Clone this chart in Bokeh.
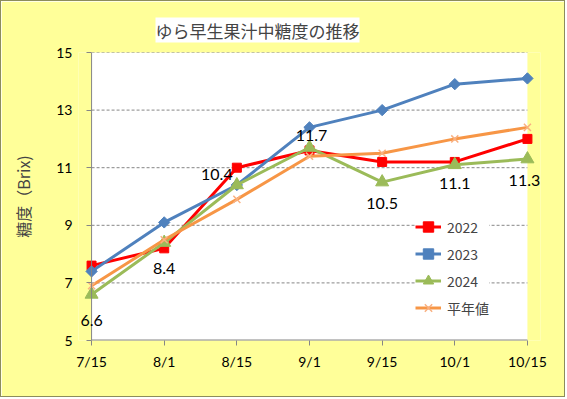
from bokeh.plotting import figure
from bokeh.models import Range1d, FixedTicker, Legend, LegendItem, Label, Span
from bokeh.embed import file_html
from bokeh.resources import INLINE
import math

# ---- data ----
dates = ["7/15", "8/1", "8/15", "9/1", "9/15", "10/1", "10/15"]
y2022 = [7.6, 8.2, 11.0, 11.6, 11.2, 11.2, 12.0]
y2023 = [7.4, 9.1, 10.4, 12.4, 13.0, 13.9, 14.1]
y2024 = [6.6, 8.4, 10.4, 11.7, 10.5, 11.1, 11.3]
normal = [6.9, 8.5, 9.9, 11.4, 11.5, 12.0, 12.4]
y_ticks = [5, 7, 9, 11, 13, 15]
title_text = "ゆら早生果汁中糖度の推移"
y_label = "糖度（Brix)"
series_names = ["2022", "2023", "2024", "平年値"]

# label placement (style, pixels; positive = downwards)
label_dx = [0, 0, -20, 2, 0, 0, -3]
label_dy = [26, 26, -10, -12, 21, 19, 21]

xs = list(range(len(dates)))
PAD = 0.18  # extra room beside the plot area so end labels are not cut

BG = "#FFFF99"
GRAY = "#868686"
p = figure(width=565, height=397, output_backend="svg", toolbar_location=None,
           x_range=Range1d(xs[0] - PAD, xs[-1] + PAD), y_range=Range1d(y_ticks[0], y_ticks[-1]),
           min_border_left=77, min_border_right=26, min_border_top=51, min_border_bottom=58,
           styles={"border": "1px solid #8C8C5C"})
p.border_fill_color = BG
p.background_fill_color = BG
p.outline_line_color = None

# white plot area
p.quad(left=xs[0], right=xs[-1], bottom=y_ticks[0], top=y_ticks[-1],
       fill_color="white", line_color=None)
# dashed gridlines across plot area
p.segment(x0=[xs[0]] * (len(y_ticks) - 1), x1=[xs[-1]] * (len(y_ticks) - 1),
          y0=y_ticks[1:], y1=y_ticks[1:], line_color=GRAY, line_dash="3 2", line_width=1)
# axis lines of the plot area
p.add_layout(Span(location=xs[0], dimension="height", line_color=GRAY, line_width=1))
p.segment(x0=[xs[0]], x1=[xs[-1]], y0=[y_ticks[0]], y1=[y_ticks[0]], line_color=GRAY, line_width=2)

# title
p.title.text = title_text
p.title.text_font = "Noto Sans CJK JP"
p.title.text_font_size = "17px"
p.title.text_font_style = "normal"
p.title.align = "left"
p.title.offset = 77
p.title.background_fill_color = "white"
p.title.standoff = 20

# axes
tick_font = "Lato"
p.xaxis.ticker = FixedTicker(ticks=xs)
p.xaxis.major_label_overrides = {i: d for i, d in enumerate(dates)}
p.yaxis.ticker = FixedTicker(ticks=y_ticks)
for ax in (p.xaxis[0], p.yaxis[0]):
    ax.axis_line_color = None
    ax.major_tick_line_color = GRAY
    ax.minor_tick_line_color = None
    ax.minor_tick_in = 0
    ax.minor_tick_out = 0
    ax.major_label_text_font = tick_font
    ax.major_label_text_font_size = "14px"
    ax.major_label_text_color = "black"
p.xaxis.major_tick_in = 0
p.xaxis.major_tick_out = 5
p.xaxis.major_label_standoff = 7
p.yaxis.major_tick_in = 13
p.yaxis.major_tick_out = -8
p.yaxis.major_label_standoff = 6
p.yaxis.axis_label = y_label
p.yaxis.axis_label_text_font = "Noto Sans CJK JP"
p.yaxis.axis_label_text_font_size = "16px"
p.yaxis.axis_label_text_font_style = "normal"
p.yaxis.axis_label_standoff = 18

p.xgrid.grid_line_color = None
p.ygrid.grid_line_color = None

# series
items = []
l = p.line(xs, y2022, line_color="#FF0000", line_width=3)
m = p.scatter(xs, y2022, marker="square", size=9, fill_color="#FF0000", line_color="#FF0000")
items.append(LegendItem(label=series_names[0], renderers=[l, m]))

l = p.line(xs, y2023, line_color="#4F81BD", line_width=3)
m = p.scatter(xs, y2023, marker="square", size=8, angle=math.pi / 4,
              fill_color="#4F81BD", line_color="#4F81BD")
items.append(LegendItem(label=series_names[1], renderers=[l, m]))

l = p.line(xs, y2024, line_color="#9BBB59", line_width=3)
m = p.scatter(xs, y2024, marker="triangle", size=13, fill_color="#9BBB59", line_color="#9BBB59")
items.append(LegendItem(label=series_names[2], renderers=[l, m]))

l = p.line(xs, normal, line_color="#F79646", line_width=3)
m = p.scatter(xs, normal, marker="x", size=10, line_color="#F9B080", line_width=1.5)
items.append(LegendItem(label=series_names[3], renderers=[l, m]))

# data labels for 2024
for xi, v, dx, dy in zip(xs, y2024, label_dx, label_dy):
    p.add_layout(Label(x=xi, y=v, text=f"{v:.1f}", x_offset=dx, y_offset=-dy,
                       text_font="Lato", text_font_size="16px", text_color="black",
                       text_align="center", text_baseline="middle"))

legend = Legend(items=items, location=(337, 19))
legend.background_fill_color = "white"
legend.background_fill_alpha = 1
legend.border_line_color = None
legend.glyph_width = 26
legend.glyph_height = 27
legend.label_height = 27
legend.spacing = 0
legend.padding = 5
legend.margin = 0
legend.label_standoff = 6
legend.label_text_font = "Noto Sans CJK JP"
legend.label_text_font_size = "14px"
p.add_layout(legend, "center")

open("out.html", "w").write(file_html(p, INLINE))
